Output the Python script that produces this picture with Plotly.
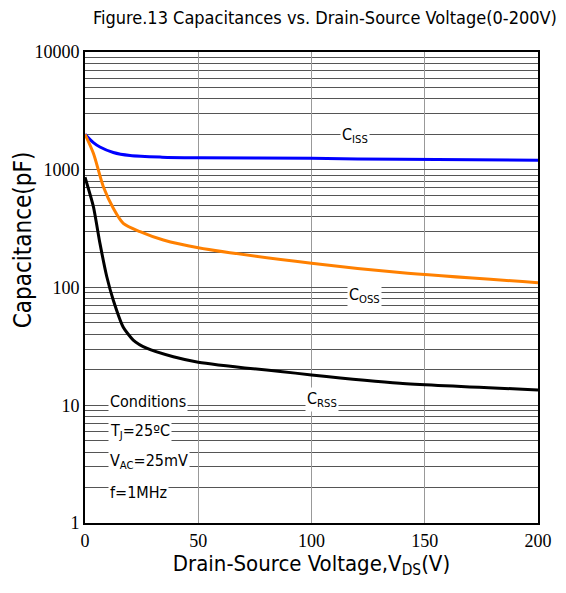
import math
import plotly.graph_objects as go

v_iss = [0, 3.7, 6.6, 12.5, 19.9, 34, 50, 100, 139, 200]
c_iss = [2000, 1700, 1560, 1400, 1320, 1280, 1265, 1250, 1225, 1205]

v_oss = [0, 3.7, 8.1, 12.5, 16.9, 24.3, 34.6, 50, 100, 139, 200]
c_oss = [2000, 1380, 718, 471, 351, 298, 253, 218, 161, 134, 110]

v_rss = [0, 3.7, 6.6, 9.6, 12.5, 16.9, 21.3, 27.2, 39, 50, 100, 139, 200]
c_rss = [863, 486, 237, 124, 78, 46, 35.8, 30.5, 25.8, 23.2, 18.1, 15.4, 13.5]

y_ticks = [1, 10, 100, 1000, 10000]
x_ticks = [0, 50, 100, 150, 200]

title = "Figure.13 Capacitances vs. Drain-Source Voltage(0-200V)"
y_title = "Capacitance(pF)"
x_title = "Drain-Source Voltage,V<sub>DS</sub>(V)"
cond_lines = ["Conditions", "T<sub>J</sub>=25ºC", "V<sub>AC</sub>=25mV", "f=1MHz"]
cond_y = [10.7, 5.95, 3.3, 1.83]

SANS = "DejaVu Sans Condensed, Liberation Sans Narrow, Roboto, sans-serif"
SERIF = "Liberation Serif, DejaVu Serif, serif"

fig = go.Figure()
fig.add_trace(go.Scatter(x=v_iss, y=c_iss, mode="lines",
                         line=dict(color="#0000ff", width=3, shape="spline", smoothing=0.8)))
fig.add_trace(go.Scatter(x=v_oss, y=c_oss, mode="lines",
                         line=dict(color="#ff8000", width=3, shape="spline", smoothing=0.8)))
fig.add_trace(go.Scatter(x=v_rss, y=c_rss, mode="lines",
                         line=dict(color="#000000", width=3, shape="spline", smoothing=0.6)))

ann = [
    dict(x=119, y=1970, text="C<sub>ISS</sub>"),
    dict(x=123.5, y=86, text="C<sub>OSS</sub>"),
    dict(x=104.5, y=11.1, text="C<sub>RSS</sub>"),
]
annotations = []
for a in ann:
    annotations.append(dict(x=a["x"], y=math.log10(a["y"]), xref="x", yref="y",
                            text=a["text"], showarrow=False, bgcolor="white",
                            font=dict(family=SANS, size=16, color="black")))
for t, yv in zip(cond_lines, cond_y):
    annotations.append(dict(x=10, y=math.log10(yv), xref="x", yref="y", xanchor="left",
                            text=t, showarrow=False, bgcolor="white",
                            font=dict(family=SANS, size=16, color="black")))
annotations.append(dict(x=-0.136, y=0.601, xref="paper", yref="paper", text=y_title,
                        textangle=-90, showarrow=False, xanchor="center", yanchor="middle",
                        font=dict(family=SANS, size=24, color="black")))

fig.update_layout(
    width=558, height=585,
    margin=dict(l=77, r=28, t=44, b=70, autoexpand=False),
    paper_bgcolor="white", plot_bgcolor="white",
    showlegend=False,
    title=dict(text=title, x=0.568, xanchor="center", y=0.983, yanchor="middle",
               font=dict(family=SANS, size=18, color="black")),
    annotations=annotations,
    xaxis=dict(range=[0, 200], tickvals=x_ticks, showgrid=True, gridcolor="#999999", gridwidth=1,
               showline=True, mirror=True, linecolor="black", linewidth=2, ticks="",
               zeroline=False, automargin=False,
               tickfont=dict(family=SERIF, size=18, color="black"),
               title=dict(text=x_title, standoff=2,
                          font=dict(family=SANS, size=22, color="black"))),
    yaxis=dict(type="log", range=[0, 4], tickvals=y_ticks, ticktext=[str(t) for t in y_ticks],
               showgrid=True, gridcolor="#555555", gridwidth=1, automargin=False,
               minor=dict(dtick="D1", showgrid=True, gridcolor="#555555", gridwidth=1, ticks=""),
               showline=True, mirror=True, linecolor="black", linewidth=2, ticks="",
               tickfont=dict(family=SERIF, size=18, color="black")),
)
fig.write_html("out.html")
